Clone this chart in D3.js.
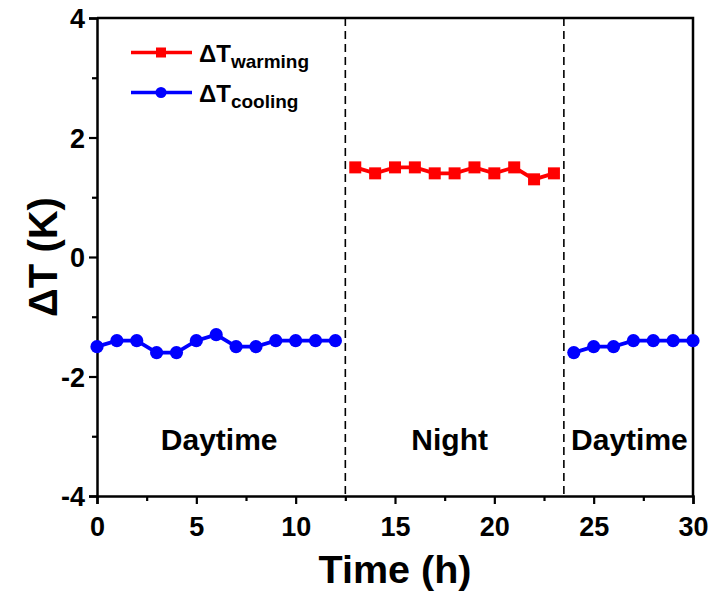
<!DOCTYPE html>
<html>
<head>
<meta charset="utf-8">
<script src="https://cdn.jsdelivr.net/npm/d3@7"></script>
<style>
  html, body { margin: 0; padding: 0; background: #fff; }
  svg text { font-family: "Liberation Sans", Arial, sans-serif; font-weight: bold; fill: #000; }
</style>
</head>
<body>
<svg id="chart" width="712" height="595"></svg>
<script>
// Temperature difference over a 30 h day/night cycle
const coolingDayHours = [0, 1, 2, 3, 4, 5, 6, 7, 8, 9, 10, 11, 12];
const coolingDayValues = [-1.5, -1.4, -1.4, -1.6, -1.6, -1.4, -1.3, -1.5, -1.5, -1.4, -1.4, -1.4, -1.4];
const warmingHours = [13, 14, 15, 16, 17, 18, 19, 20, 21, 22, 23];
const warmingValues = [1.5, 1.4, 1.5, 1.5, 1.4, 1.4, 1.5, 1.4, 1.5, 1.3, 1.4];
const coolingDay2Hours = [24, 25, 26, 27, 28, 29, 30];
const coolingDay2Values = [-1.6, -1.5, -1.5, -1.4, -1.4, -1.4, -1.4];
const xTicks = [0, 5, 10, 15, 20, 25, 30];
const yTicks = [-4, -2, 0, 2, 4];
const phaseBounds = [12.5, 23.5];
const phaseLabels = [
  { text: "Daytime", x: 6.15 },
  { text: "Night", x: 17.75 },
  { text: "Daytime", x: 26.8 }
];

const svg = d3.select("#chart");
const margin = { left: 97, right: 19, top: 18, bottom: 99 };
const W = 712, H = 595;
const x = d3.scaleLinear().domain([0, 30]).range([margin.left, W - margin.right]);
const y = d3.scaleLinear().domain([-4, 4]).range([H - margin.bottom, margin.top]);

const RED = "#ff0000", BLUE = "#0000ff";

// phase separators
svg.selectAll("line.sep").data(phaseBounds).join("line")
  .attr("class", "sep")
  .attr("x1", d => x(d)).attr("x2", d => x(d))
  .attr("y1", y(4)).attr("y2", y(-4))
  .attr("stroke", "#000").attr("stroke-width", 1.6)
  .attr("stroke-dasharray", "8,5");

// phase labels
svg.selectAll("text.phase").data(phaseLabels).join("text")
  .attr("class", "phase")
  .attr("x", d => x(d.x)).attr("y", 450)
  .attr("text-anchor", "middle")
  .attr("font-size", 30)
  .text(d => d.text);

// axes with major + minor ticks
const xMinor = d3.range(0, 30.01, 2.5).filter(v => v % 5 !== 0);
const yMinor = [-3, -1, 1, 3];
const plain = d => String(d);

const xAxis = svg.append("g").attr("transform", `translate(0,${y(-4)})`)
  .call(d3.axisBottom(x).tickValues(xTicks).tickSize(8).tickFormat(plain));
svg.append("g").attr("transform", `translate(0,${y(-4)})`)
  .call(d3.axisBottom(x).tickValues(xMinor).tickSize(5).tickFormat(""))
  .call(g => g.select(".domain").remove());

const yAxis = svg.append("g").attr("transform", `translate(${x(0)},0)`)
  .call(d3.axisLeft(y).tickValues(yTicks).tickSize(8).tickPadding(4).tickFormat(plain));
svg.append("g").attr("transform", `translate(${x(0)},0)`)
  .call(d3.axisLeft(y).tickValues(yMinor).tickSize(5).tickFormat(""))
  .call(g => g.select(".domain").remove());

svg.selectAll(".tick line").attr("stroke", "#000").attr("stroke-width", 2.2);
svg.selectAll(".domain").attr("stroke", "#000").attr("stroke-width", 2.5);
svg.selectAll(".tick text")
  .attr("font-size", 27)
  .style("font-family", "'Liberation Sans', Arial, sans-serif")
  .style("font-weight", "bold")
  .attr("fill", "#000");
xAxis.selectAll(".tick text").attr("y", 40).attr("dy", 0);
yAxis.selectAll(".tick text").attr("dy", "0.36em");

// top and right frame
svg.append("path")
  .attr("d", `M${x(0)},${y(4)}H${x(30)}V${y(-4)}`)
  .attr("fill", "none").attr("stroke", "#000").attr("stroke-width", 2.5);

// series
const line = d3.line().x(d => x(d[0])).y(d => y(d[1]));
const zip = (a, b) => a.map((v, i) => [v, b[i]]);

function drawSeries(pts, color, shape) {
  const g = svg.append("g");
  g.append("path").datum(pts).attr("d", line)
    .attr("fill", "none").attr("stroke", color).attr("stroke-width", 3.8);
  if (shape === "square") {
    g.selectAll("rect").data(pts).join("rect")
      .attr("x", d => x(d[0]) - 6).attr("y", d => y(d[1]) - 6)
      .attr("width", 12).attr("height", 12).attr("fill", color);
  } else {
    g.selectAll("circle").data(pts).join("circle")
      .attr("cx", d => x(d[0])).attr("cy", d => y(d[1]))
      .attr("r", 6.6).attr("fill", color);
  }
}
drawSeries(zip(coolingDayHours, coolingDayValues), BLUE, "circle");
drawSeries(zip(warmingHours, warmingValues), RED, "square");
drawSeries(zip(coolingDay2Hours, coolingDay2Values), BLUE, "circle");

// legend
const legend = [
  { sub: "warming", color: RED, shape: "square", y: 52.5 },
  { sub: "cooling", color: BLUE, shape: "circle", y: 92.5 }
];
legend.forEach(d => {
  const g = svg.append("g");
  g.append("line").attr("x1", 131).attr("x2", 192).attr("y1", d.y).attr("y2", d.y)
    .attr("stroke", d.color).attr("stroke-width", 3.6);
  if (d.shape === "square") {
    g.append("rect").attr("x", 161 - 5).attr("y", d.y - 5).attr("width", 10).attr("height", 10).attr("fill", d.color);
  } else {
    g.append("circle").attr("cx", 161).attr("cy", d.y).attr("r", 5.5).attr("fill", d.color);
  }
  const t = g.append("text").attr("x", 199).attr("y", d.y + 9).attr("font-size", 24);
  t.append("tspan").text("ΔT");
  t.append("tspan").attr("font-size", 19).attr("dy", 6).text(d.sub);
});

// axis titles
svg.append("text")
  .attr("x", (x(0) + x(30)) / 2).attr("y", 583)
  .attr("text-anchor", "middle").attr("font-size", 39.5)
  .text("Time (h)");
svg.append("text")
  .attr("transform", `translate(57,${y(0)}) rotate(-90)`)
  .attr("text-anchor", "middle").attr("font-size", 40)
  .text("ΔT (K)");
</script>
</body>
</html>
